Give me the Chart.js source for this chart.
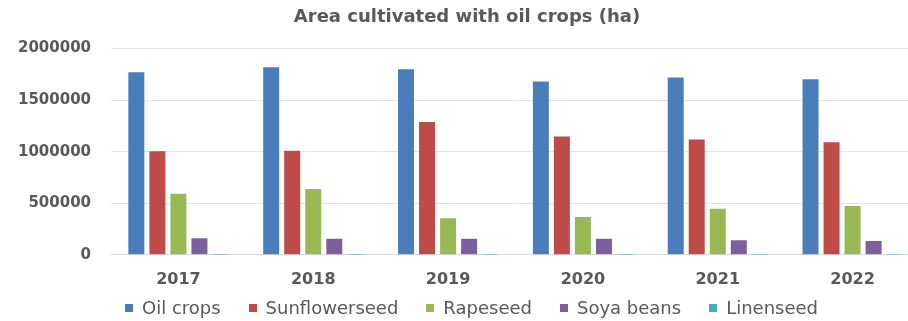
<!DOCTYPE html>
<html>
<head>
<meta charset="utf-8">
<script src="https://cdn.jsdelivr.net/npm/chart.js@4/dist/chart.umd.min.js"></script>
<style>
  html, body { margin: 0; padding: 0; background: #fff; overflow: hidden; }
  #wrap { position: relative; width: 920px; height: 321px; }
  #chart-box { width: 920px; height: 311px; }
  #legend {
    position: absolute; left: 125px; top: 297px;
    display: flex; gap: 28px; align-items: center;
    font-family: 'DejaVu Sans', sans-serif; font-size: 18px; color: #595959;
    white-space: nowrap;
  }
  #legend .item { display: flex; align-items: center; }
  #legend .swatch { width: 8px; height: 8px; margin-right: 9px; }
</style>
</head>
<body>
<div id="wrap">
  <div id="chart-box"><canvas id="oil-chart"></canvas></div>
  <div id="legend"></div>
</div>
<script>
const years = ['2017', '2018', '2019', '2020', '2021', '2022'];
const oilCrops = [1771000, 1819000, 1800000, 1681000, 1720000, 1703000];
const sunflowerseed = [1005000, 1010000, 1288000, 1147000, 1118000, 1092000];
const rapeseed = [592000, 638000, 355000, 367000, 447000, 473000];
const soyaBeans = [161000, 155000, 155000, 155000, 142000, 135000];
const linenseed = [1500, 1200, 1400, 1100, 1300, 1200];
const yTicks = [0, 500000, 1000000, 1500000, 2000000];

const textGrey = '#595959';
const font = "'DejaVu Sans', sans-serif";

const chart = new Chart(document.getElementById('oil-chart'), {
  type: 'bar',
  data: {
    labels: years,
    datasets: [
      { label: 'Oil crops', data: oilCrops, backgroundColor: '#4A7EBB' },
      { label: 'Sunflowerseed', data: sunflowerseed, backgroundColor: '#BE4B48' },
      { label: 'Rapeseed', data: rapeseed, backgroundColor: '#98B954' },
      { label: 'Soya beans', data: soyaBeans, backgroundColor: '#7D5FA0' },
      { label: 'Linenseed', data: linenseed, backgroundColor: '#46AAC5' }
    ]
  },
  options: {
    responsive: true,
    maintainAspectRatio: false,
    animation: false,
    datasets: { bar: { barPercentage: 0.76, categoryPercentage: 0.78 } },
    layout: { padding: { left: 14, right: 0, top: 5, bottom: 7 } },
    plugins: {
      title: {
        display: true,
        text: 'Area cultivated with oil crops (ha)',
        color: textGrey,
        font: { family: font, size: 18, weight: 'bold' },
        padding: { top: 2, bottom: 20 }
      },
      legend: { display: false },
      tooltip: { enabled: false }
    },
    scales: {
      x: {
        grid: { display: false, drawTicks: false },
        border: { color: '#d9d9d9' },
        ticks: { color: textGrey, font: { family: font, size: 16, weight: 'bold' }, padding: 15 }
      },
      y: {
        min: 0,
        max: 2000000,
        afterBuildTicks: axis => { axis.ticks = yTicks.map(v => ({ value: v })); },
        afterFit: axis => { axis.width = 97; },
        grid: { color: '#e3e3e3', drawTicks: false },
        border: { display: false },
        ticks: {
          color: textGrey,
          font: { family: font, size: 15, weight: 'bold' },
          padding: 20,
          callback: v => String(v)
        }
      }
    }
  }
});

// legend row under the plot, built from the datasets
const legendEl = document.getElementById('legend');
chart.data.datasets.forEach(ds => {
  const item = document.createElement('span');
  item.className = 'item';
  const swatch = document.createElement('span');
  swatch.className = 'swatch';
  swatch.style.background = ds.backgroundColor;
  item.appendChild(swatch);
  item.appendChild(document.createTextNode(ds.label));
  legendEl.appendChild(item);
});
</script>
</body>
</html>
